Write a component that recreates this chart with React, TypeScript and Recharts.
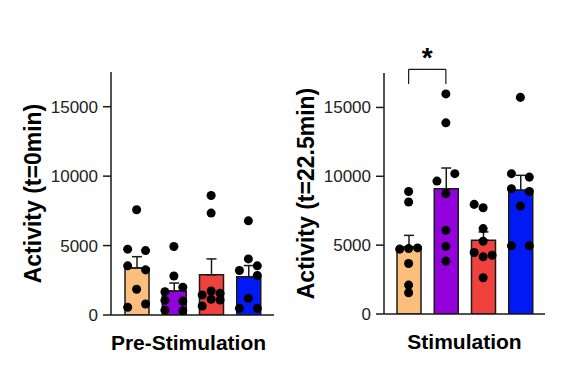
import React from 'react';
import {
  ComposedChart,
  Bar,
  Cell,
  ErrorBar,
  Scatter,
  XAxis,
  YAxis,
  ReferenceLine,
} from 'recharts';

// Group colours (orange, purple, red, blue)
const COLORS = ['#FBBE7D', '#9400DC', '#F0423C', '#0019F5'];
const GROUPS = ['G1', 'G2', 'G3', 'G4'];
const Y_TICKS = [0, 5000, 10000, 15000];

// Pre-stimulation (t=0min)
const preMeans = [3390, 1730, 2890, 2760];
const preSem = [810, 570, 1150, 800];
const preOrange = [7580, 4740, 4640, 3540, 3250, 1850, 560, 790];
const prePurple = [4930, 2810, 2000, 1680, 1050, 1000, 350, 300];
const preRed = [8610, 7340, 1440, 1730, 1560, 650, 1130, 1080];
const preBlue = [6780, 4040, 3200, 3540, 2840, 1200, 480, 480];

// Stimulation (t=22.5min)
const stimMeans = [4890, 9090, 5360, 8990];
const stimSem = [820, 1510, 600, 1080];
const stimOrange = [8900, 8130, 4710, 4750, 4800, 3670, 2100, 1540];
const stimPurple = [15980, 13880, 9650, 10190, 8740, 6080, 4920, 3840];
const stimRed = [7960, 7720, 6200, 5280, 4470, 4150, 4270, 2630];
const stimBlue = [15730, 10190, 9940, 9100, 8900, 7840, 4950, 4950];

// which column of the bar each dot sits in (-1 left, 0 middle, 1 right)
const preSides = [
  [0, -1, 1, -1, 1, 0, -1, 1],
  [0, 0, 1, -1, -1, 1, -1, 1],
  [0, 0, -1, 0, 1, -1, 0, 1],
  [0, 0, -1, 1, 1, 0, -1, 1],
];
const stimSides = [
  [0, 0, -1, 0, 1, 0, 0, 0],
  [0, 0, -1, 1, 0, 0, 0, 0],
  [-1, 0, 0, 0, -1, 0, 1, 0],
  [0, -1, 1, -1, 1, 0, -1, 1],
];

const FONT = '"Liberation Sans", Arial, Helvetica, sans-serif';
const INK = '#1a1a1a';

interface PanelProps {
  left: number;
  means: number[];
  sems: number[];
  points: number[][];
  sides: number[][];
  yTitle: string;
  xTitle: string;
  xTitleDx: number;
  margin: { top: number; right: number; bottom: number; left: number };
  pad: { left: number; right: number };
  sig?: boolean;
}

const Panel = ({ left, means, sems, points, sides, yTitle, xTitle, xTitleDx, margin, pad, sig }: PanelProps) => {
  const bars = GROUPS.map((g, i) => ({ name: g, mean: means[i], err: [0, sems[i]] }));
  const dots = points.flatMap((vals, gi) =>
    vals.map((v, k) => ({ x: gi + sides[gi][k] * 0.24, y: v }))
  );

  const yTitleEl = (props: any) => {
    const vb = props.viewBox;
    const x = vb.x - 18;
    const y = vb.y + vb.height / 2;
    return (
      <text
        x={x}
        y={y}
        transform={`rotate(-90, ${x}, ${y})`}
        textAnchor="middle"
        dominantBaseline="central"
        fontFamily={FONT}
        fontWeight="bold"
        fontSize={23}
        fill="#000"
      >
        {yTitle}
      </text>
    );
  };

  const xTitleEl = (props: any) => {
    const vb = props.viewBox;
    return (
      <text
        x={vb.x + vb.width / 2 + xTitleDx}
        y={vb.y + 35}
        textAnchor="middle"
        fontFamily={FONT}
        fontWeight="bold"
        fontSize={21}
        fill="#000"
      >
        {xTitle}
      </text>
    );
  };

  return (
    <div style={{ position: 'absolute', left, top: 0 }}>
      <ComposedChart width={282} height={367} data={bars} margin={margin}>
        <XAxis
          xAxisId="cat"
          dataKey="name"
          type="category"
          padding={pad}
          tick={false}
          tickLine={false}
          axisLine={{ stroke: INK, strokeWidth: 1.5 }}
          height={40}
          label={{ content: xTitleEl }}
        />
        <XAxis xAxisId="pts" type="number" dataKey="x" domain={[-0.5, 3.5]} padding={pad} hide />
        <YAxis
          domain={[0, 17500]}
          ticks={Y_TICKS}
          width={60}
          tickSize={8}
          tickMargin={5}
          axisLine={{ stroke: INK, strokeWidth: 1.5 }}
          tickLine={{ stroke: INK, strokeWidth: 1.5 }}
          tick={{ fontFamily: FONT, fontSize: 17, fill: '#222' }}
          label={{ content: yTitleEl }}
          allowDataOverflow
        />
        <Bar xAxisId="cat" dataKey="mean" barSize={24} stroke={INK} strokeWidth={1.5} isAnimationActive={false}>
          {bars.map((b, i) => (
            <Cell key={b.name} fill={COLORS[i]} />
          ))}
          <ErrorBar dataKey="err" width={5} stroke={INK} strokeWidth={1.5} direction="y" isAnimationActive={false} />
        </Bar>
        <Scatter xAxisId="pts" data={dots} dataKey="y" fill="#000" isAnimationActive={false} />
        {sig && (
          <ReferenceLine
            xAxisId="pts"
            segment={[{ x: 0, y: 16700 }, { x: 0, y: 17770 }]}
            stroke={INK}
            strokeWidth={1.2}
            ifOverflow="visible"
          />
        )}
        {sig && (
          <ReferenceLine
            xAxisId="pts"
            segment={[{ x: 1, y: 16700 }, { x: 1, y: 17770 }]}
            stroke={INK}
            strokeWidth={1.2}
            ifOverflow="visible"
          />
        )}
        {sig && (
          <ReferenceLine
            xAxisId="pts"
            segment={[{ x: 0, y: 17770 }, { x: 1, y: 17770 }]}
            stroke={INK}
            strokeWidth={1.2}
            ifOverflow="visible"
            label={{ value: '*', position: 'top', offset: 2, fontFamily: FONT, fontWeight: 'bold', fontSize: 28, fill: '#000' }}
          />
        )}
      </ComposedChart>
    </div>
  );
};

export default function App() {
  return (
    <div style={{ position: 'absolute', left: 0, top: 0, width: 564, height: 367, background: '#fff' }}>
      <Panel
        left={0}
        means={preMeans}
        sems={preSem}
        points={[preOrange, prePurple, preRed, preBlue]}
        sides={preSides}
        yTitle="Activity (t=0min)"
        xTitle="Pre-Stimulation"
        xTitleDx={-4}
        margin={{ top: 72, right: 8, bottom: 12, left: 51 }}
        pad={{ left: 7, right: 7 }}
      />
      <Panel
        left={282}
        means={stimMeans}
        sems={stimSem}
        points={[stimOrange, stimPurple, stimRed, stimBlue]}
        sides={stimSides}
        yTitle="Activity (t=22.5min)"
        xTitle="Stimulation"
        xTitleDx={0}
        margin={{ top: 73, right: 19, bottom: 13, left: 42 }}
        pad={{ left: 6, right: 6 }}
        sig
      />
    </div>
  );
}
